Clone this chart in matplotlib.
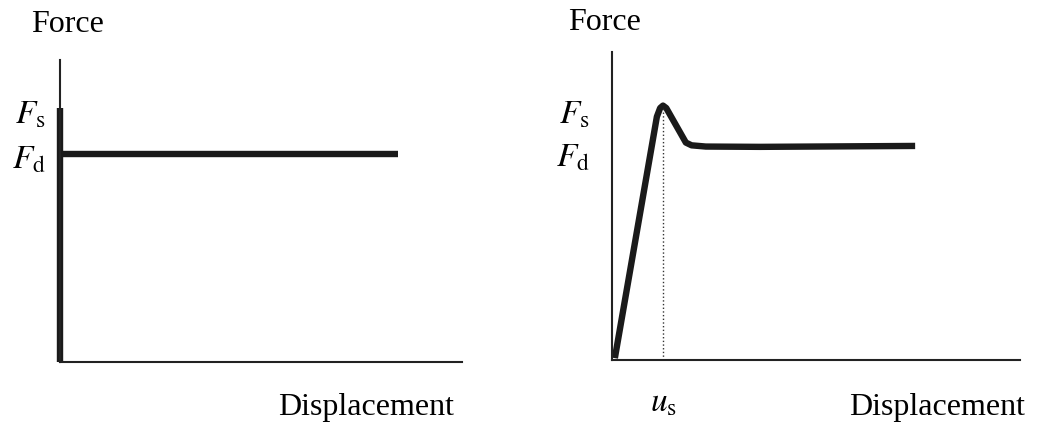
import matplotlib.pyplot as plt

plt.rcParams['font.family'] = ['Liberation Serif', 'DejaVu Serif']
plt.rcParams['mathtext.fontset'] = 'stix'

# rigid-plastic model (left)
Fs_left = 0.84
Fd_left = 0.69
x_end_left = 0.84

# stick-slip model (right)
disp_right = [0.007, 0.110, 0.118, 0.125, 0.133, 0.145, 0.181, 0.195, 0.230, 0.363, 0.743]
force_right = [0.006, 0.790, 0.818, 0.826, 0.818, 0.790, 0.706, 0.697, 0.693, 0.692, 0.695]
us = 0.125
Fs_peak = 0.826
Fs_right = 0.805
Fd_right = 0.666

fig = plt.figure(figsize=(10.37, 4.25), dpi=100)
W, H = 1037, 425

ax1 = fig.add_axes([60 / W, 1 - 362 / H, 402 / W, 302 / H])
ax2 = fig.add_axes([612 / W, 1 - 360 / H, 408 / W, 308 / H])

for ax in (ax1, ax2):
    ax.set_xlim(0, 1)
    ax.set_ylim(0, 1)
    for s in ('top', 'right'):
        ax.spines[s].set_visible(False)
    ax.spines['left'].set_linewidth(1.5)
    ax.spines['bottom'].set_linewidth(1.5)
    ax.spines['left'].set_color('#222222')
    ax.spines['bottom'].set_color('#222222')
    ax.tick_params(length=0, labelsize=24, pad=10)

lw = 4.6
ax1.plot([0, 0], [0, Fs_left], color='#1a1a1a', lw=lw, clip_on=False, solid_capstyle='butt')
ax1.plot([0, x_end_left], [Fd_left, Fd_left], color='#1a1a1a', lw=lw, clip_on=False,
         solid_capstyle='butt')
ax1.set_yticks([Fs_left - 0.01, Fd_left - 0.01])
ax1.set_yticklabels([r'$F_{\mathrm{s}}$', r'$F_{\mathrm{d}}$'])
ax1.set_xticks([])

ax2.plot(disp_right, force_right, color='#1a1a1a', lw=lw, clip_on=False,
         solid_joinstyle='round', solid_capstyle='butt')
ax2.plot([us, us], [0, Fs_peak], color='#333333', lw=1, ls=':')
ax2.set_yticks([Fs_right, Fd_right])
ax2.set_yticklabels([r'$F_{\mathrm{s}}$', r'$F_{\mathrm{d}}$'])
ax2.tick_params(axis='y', pad=16)
ax2.set_xticks([us])
ax2.set_xticklabels([r'$u_{\mathrm{s}}$'])
ax2.tick_params(axis='x', pad=20)

fig.text(31 / W, 1 - 25 / H, 'Force', fontsize=23, va='center', ha='left')
fig.text(568 / W, 1 - 22 / H, 'Force', fontsize=23, va='center', ha='left')
fig.text(454 / W, 1 - 408 / H, 'Displacement', fontsize=23, va='center', ha='right')
fig.text(1025 / W, 1 - 408 / H, 'Displacement', fontsize=23, va='center', ha='right')

fig.savefig('out.png', dpi=100)
